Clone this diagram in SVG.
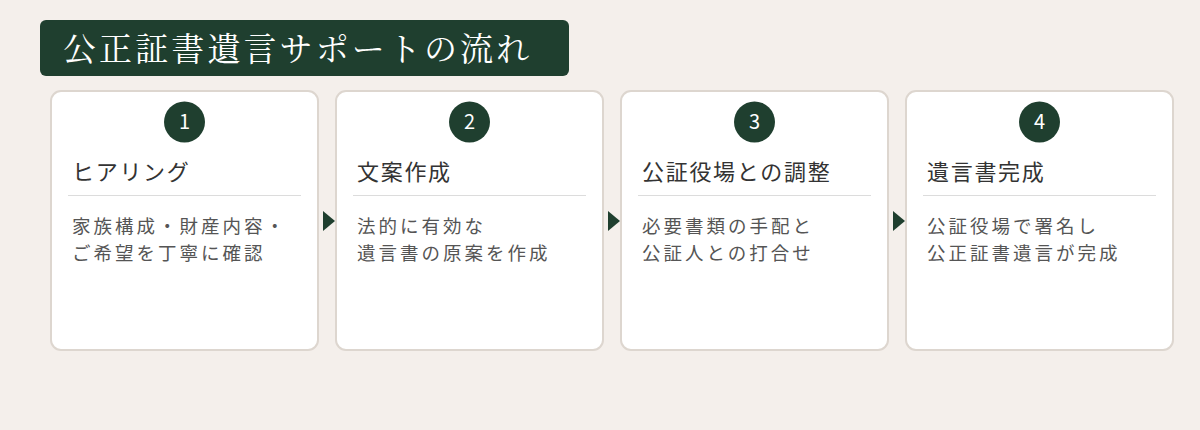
<svg xmlns="http://www.w3.org/2000/svg" width="1200" height="430" viewBox="0 0 1200 430">
<style>
.bg{fill:#f4efeb}
.card{fill:#ffffff;stroke:#ddd6cf;stroke-width:2}
.badge{fill:#1f3f2f}
.num{fill:#ffffff;font-family:"Noto Sans CJK JP","Noto Sans",sans-serif;font-size:20px;text-anchor:middle}
.head{fill:#333333;font-family:"Noto Sans CJK JP",sans-serif;font-size:22px;letter-spacing:1.7px}
.body{fill:#555555;font-family:"Noto Sans CJK JP",sans-serif;font-size:18.5px;letter-spacing:3px}
.rule{stroke:#dcdcdc;stroke-width:1}
.arrow{fill:#1f3f2f}
.title{fill:#ffffff;font-family:"Noto Serif CJK JP",serif;font-size:33px;letter-spacing:3.1px}
</style>
<rect class="bg" x="0" y="0" width="1200" height="430"/>
<g id="title">
<rect x="40" y="20" width="529" height="56" rx="6" fill="#1f3f2f"/>
<text class="title" x="63" y="61">公正証書遺言サポートの流れ</text>
</g>
<g id="step1">
<rect class="card" x="51" y="91" width="267" height="259" rx="10"/>
<circle class="badge" cx="184.5" cy="122" r="20.5"/>
<text class="num" x="184.5" y="129">1</text>
<text class="head" x="72" y="180">ヒアリング</text>
<line class="rule" x1="68" y1="195.5" x2="301" y2="195.5"/>
<text class="body" x="72" y="233">家族構成・財産内容・</text>
<text class="body" x="72" y="260">ご希望を丁寧に確認</text>
</g>
<g id="step2">
<rect class="card" x="336" y="91" width="267" height="259" rx="10"/>
<circle class="badge" cx="469.5" cy="122" r="20.5"/>
<text class="num" x="469.5" y="129">2</text>
<text class="head" x="357" y="180">文案作成</text>
<line class="rule" x1="353" y1="195.5" x2="586" y2="195.5"/>
<text class="body" x="357" y="233">法的に有効な</text>
<text class="body" x="357" y="260">遺言書の原案を作成</text>
</g>
<g id="step3">
<rect class="card" x="621" y="91" width="267" height="259" rx="10"/>
<circle class="badge" cx="754.5" cy="122" r="20.5"/>
<text class="num" x="754.5" y="129">3</text>
<text class="head" x="642" y="180">公証役場との調整</text>
<line class="rule" x1="638" y1="195.5" x2="871" y2="195.5"/>
<text class="body" x="642" y="233">必要書類の手配と</text>
<text class="body" x="642" y="260">公証人との打合せ</text>
</g>
<g id="step4">
<rect class="card" x="906" y="91" width="267" height="259" rx="10"/>
<circle class="badge" cx="1039.5" cy="122" r="20.5"/>
<text class="num" x="1039.5" y="129">4</text>
<text class="head" x="927" y="180">遺言書完成</text>
<line class="rule" x1="923" y1="195.5" x2="1156" y2="195.5"/>
<text class="body" x="927" y="233">公証役場で署名し</text>
<text class="body" x="927" y="260">公正証書遺言が完成</text>
</g>
<g id="connectors">
<polygon class="arrow" points="323,211 335,221 323,231"/>
<polygon class="arrow" points="608,211 620,221 608,231"/>
<polygon class="arrow" points="893,211 905,221 893,231"/>
</g>
</svg>
